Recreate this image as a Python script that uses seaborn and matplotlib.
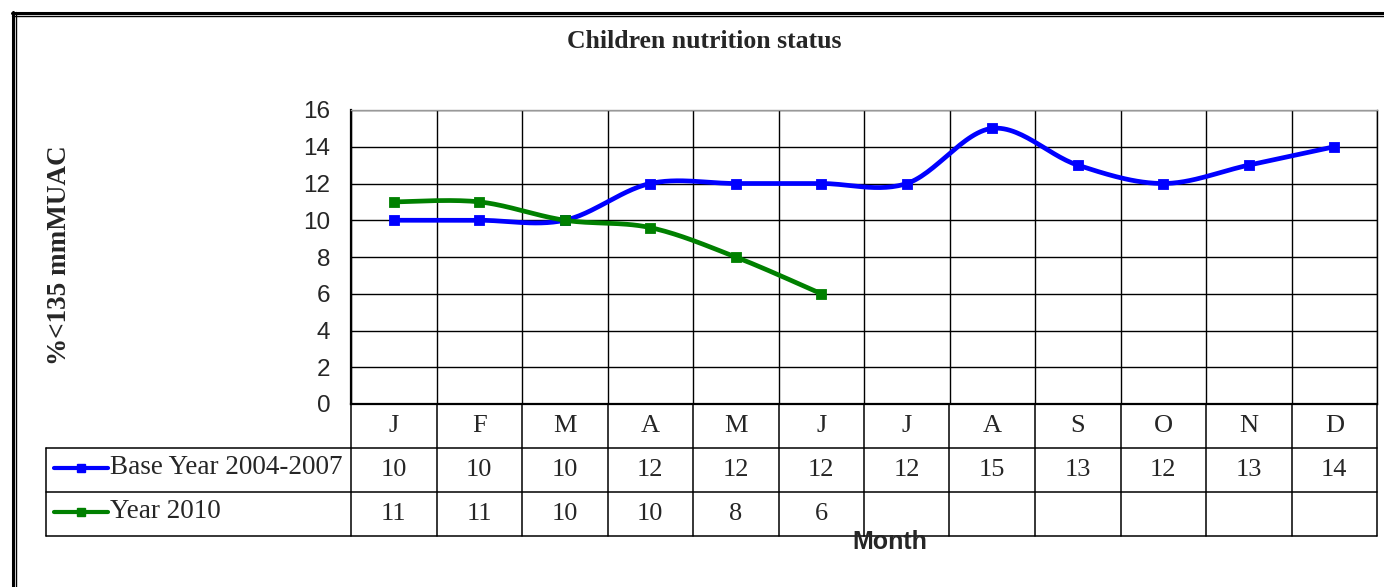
# Children nutrition status: line chart with an Excel-style data table under it
import numpy as np
import pandas as pd
import matplotlib.pyplot as plt
from matplotlib.lines import Line2D
import seaborn as sns

# Data
months = ["J", "F", "M", "A", "M", "J", "J", "A", "S", "O", "N", "D"]
base_year = [10, 10, 10, 12, 12, 12, 12, 15, 13, 12, 13, 14]
year_2010 = [11, 11, 10, 9.6, 8, 6]
series_names = ["Base Year 2004-2007", "Year 2010"]
series_colors = ["#0000ff", "#008000"]
y_ticks = [0, 2, 4, 6, 8, 10, 12, 14, 16]

sns.set_style("white")
plt.rcParams["font.family"] = ["Liberation Serif", "DejaVu Serif"]

W, H = 1384, 587


def box(l, t, r, b):
    return [l / W, 1 - b / H, (r - l) / W, (b - t) / H]


def smooth(vals, n=30):
    # Excel-like smoothed line (cubic Bezier through the points)
    p = np.column_stack([np.arange(len(vals)), vals]).astype(float)
    out = []
    for i in range(len(p) - 1):
        p0, p1, p2 = p[max(i - 1, 0)], p[i], p[i + 1]
        p3 = p[min(i + 2, len(p) - 1)]
        c1 = p1 + (p2 - p0) / 6
        c2 = p2 - (p3 - p1) / 6
        t = np.linspace(0, 1, n)[:, None]
        seg = (1 - t) ** 3 * p1 + 3 * (1 - t) ** 2 * t * c1 + 3 * (1 - t) * t ** 2 * c2 + t ** 3 * p2
        out.append(seg if i == 0 else seg[1:])
    return np.vstack(out)


fig = plt.figure(figsize=(W / 100, H / 100), dpi=100)
ax = fig.add_axes(box(351, 110, 1377, 404))
tab = fig.add_axes(box(46, 404, 1377, 536))

# 1. Lines
for vals, name, col in zip([base_year, year_2010], series_names, series_colors):
    curve = smooth(vals)
    df = pd.DataFrame({"x": curve[:, 0], "y": curve[:, 1]})
    sns.lineplot(data=df, x="x", y="y", sort=False, color=col, lw=3.4, ax=ax, zorder=3)
    pts = pd.DataFrame({"x": np.arange(len(vals)), "y": vals})
    sns.scatterplot(data=pts, x="x", y="y", marker="s", s=55, color=col,
                    edgecolor=col, ax=ax, zorder=4)

ax.set_xlim(-0.5, len(months) - 0.5)
ax.set_ylim(y_ticks[0], y_ticks[-1])
ax.set_xticks(np.arange(len(months) + 1) - 0.5)
ax.set_xticklabels([])
ax.set_yticks(y_ticks)
ax.set_yticklabels([str(v) for v in y_ticks], family="Liberation Sans", fontsize=17.5)
ax.tick_params(axis="x", length=0)
ax.tick_params(axis="y", length=8, width=1, color="black", pad=7)
ax.grid(True, color="black", lw=1)
ax.set_xlabel("")
ax.set_ylabel("")
for side, sp in ax.spines.items():
    sp.set_color("black")
    sp.set_linewidth(1)
ax.spines["left"].set_linewidth(1.6)
ax.spines["bottom"].set_linewidth(1.6)
ax.spines["top"].set_color("#999999")

# 2. Data table
leg_w = (351 - 46) / 85.5
x0 = -0.5 - leg_w
tab.set_xlim(x0, len(months) - 0.5)
tab.set_ylim(3, 0)
tab.axis("off")
for k in range(len(months) + 1):
    tab.plot([k - 0.5, k - 0.5], [0, 3], color="black", lw=1.1, clip_on=False)
for r in [1, 2, 3]:
    tab.plot([x0, len(months) - 0.5], [r, r], color="black", lw=1.1, clip_on=False)
tab.plot([x0, x0], [1, 3], color="black", lw=1.1, clip_on=False)

for i, m in enumerate(months):
    tab.text(i, 0.5, m, ha="center", va="center", fontsize=19)
for row, vals in enumerate([base_year, year_2010], start=1):
    for i, v in enumerate(vals):
        tab.text(i, row + 0.5, f"{v:.0f}", ha="center", va="center", fontsize=19)

for row, (name, col) in enumerate(zip(series_names, series_colors), start=1):
    lx = [x0 + 8 / 85.5, x0 + 62 / 85.5]
    tab.plot(lx, [row + 0.45, row + 0.45], color=col, lw=3)
    tab.plot([np.mean(lx)], [row + 0.45], marker="s", ms=6, color=col)
    tab.text(x0 + 64 / 85.5, row + 0.45, name, ha="left", va="center", fontsize=19.5)

# 3. Titles
fig.text(704 / W, 1 - 42 / H, "Children nutrition status", ha="center", va="center",
         fontsize=18.5, fontweight="bold")
fig.text(60 / W, 1 - 255 / H, "%<135 mmMUAC", ha="center", va="center",
         rotation=90, fontsize=19.5, fontweight="bold")
fig.text(890 / W, 1 - 542 / H, "Month", ha="center", va="center",
         family="Liberation Sans", fontsize=18, fontweight="bold")

# 4. Double border
for x, lw in [(12.5, 2.2), (16, 1.0)]:
    fig.add_artist(Line2D([x / W, x / W], [0, 1 - 12 / H], color="black", lw=lw))
for y, lw in [(12.5, 2.2), (15.5, 1.0)]:
    fig.add_artist(Line2D([12 / W, 1], [1 - y / H, 1 - y / H], color="black", lw=lw))

fig.savefig("out.png", dpi=100, facecolor="white")
